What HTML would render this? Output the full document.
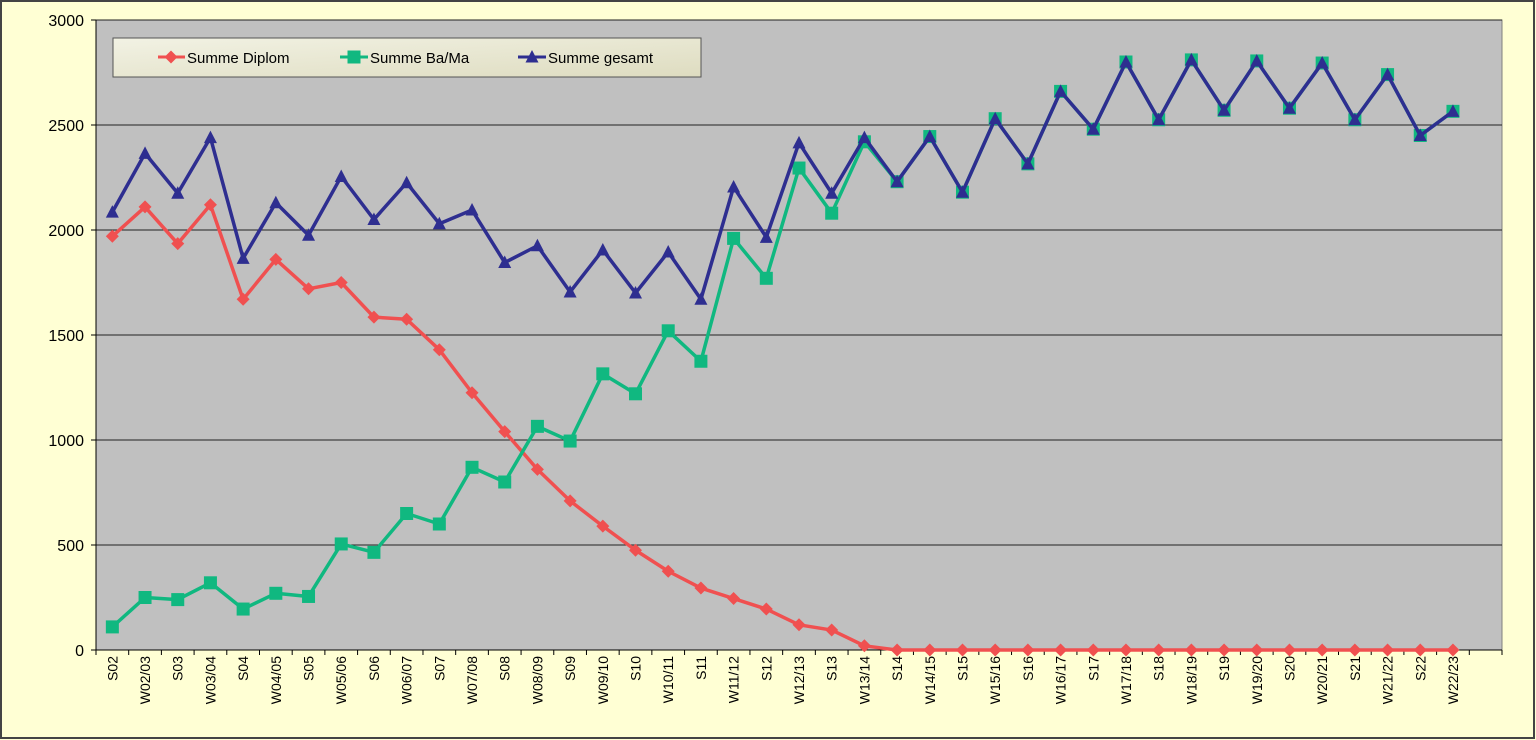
<!DOCTYPE html>
<html><head><meta charset="utf-8"><style>
html,body{margin:0;padding:0;background:#ffffd0}
svg{display:block;font-family:"Liberation Sans",sans-serif}
</style></head><body>
<svg id="s" width="1536" height="740" xmlns="http://www.w3.org/2000/svg">
<rect x="0" y="0" width="1536" height="740" fill="#ffffd4"/>
<rect x="1" y="1" width="1533" height="737" fill="none" stroke="#444" stroke-width="2"/>
<defs><linearGradient id="lg" x1="0" y1="0" x2="1" y2="1"><stop offset="0" stop-color="#f2f2e4"/><stop offset="1" stop-color="#dedcc0"/></linearGradient></defs>
<rect x="96" y="20" width="1406" height="630" fill="#c0c0c0" stroke="#808080"/>
<g id="g"></g>
</svg>
<script>
var g=document.getElementById('g'),h='';
var L=96,T=20,B=650,W=1406,N=43,dx=W/N;
function Y(v){return B-v*0.21}
function X(i){return L+dx*(i+0.5)}
for(var k=1;k<=6;k++){var y=Y(k*500);h+='<line x1="'+L+'" x2="'+(L+W)+'" y1="'+y+'" y2="'+y+'" stroke="#222" stroke-width="1"/>';}
for(var k=0;k<=6;k++){var y=Y(k*500);h+='<line x1="'+(L-5)+'" x2="'+L+'" y1="'+y+'" y2="'+y+'" stroke="#000"/><text x="'+(L-12)+'" y="'+(y+6)+'" font-size="16" text-anchor="end">'+(k*500)+'</text>';}
h+='<line x1="'+L+'" x2="'+L+'" y1="'+T+'" y2="'+B+'" stroke="#000"/><line x1="'+L+'" x2="'+(L+W)+'" y1="'+B+'" y2="'+B+'" stroke="#000"/>';
for(var i=0;i<=N;i++){var x=L+dx*i;h+='<line x1="'+x+'" x2="'+x+'" y1="'+B+'" y2="'+(B+5)+'" stroke="#000"/>';}
var lab=[];for(var yy=2;yy<=22;yy++){var a=('0'+yy).slice(-2),b=('0'+(yy+1)).slice(-2);lab.push('S'+a);lab.push('W'+a+'/'+b);}
lab.forEach(function(t,i){var x=X(i)+5;h+='<text transform="translate('+x+',656) rotate(-90)" font-size="14" text-anchor="end">'+t+'</text>';});
var D=[1970,2110,1935,2120,1670,1860,1720,1750,1585,1575,1430,1225,1040,860,710,590,475,375,295,245,195,120,95,20];while(D.length<42)D.push(0);
var M=[110,250,240,320,195,270,255,505,465,650,600,870,800,1065,995,1315,1220,1520,1375,1960,1770,2295,2080,2420,2230,2445,2180,2530,2315,2660,2480,2800,2525,2810,2570,2805,2580,2795,2525,2740,2450,2565];
var G=[2085,2365,2175,2440,1865,2130,1975,2255,2050,2225,2030,2095,1845,1925,1705,1905,1700,1895,1670,2205,1965,2415,2175,2440];for(var i=24;i<42;i++)G.push(M[i]);
function line(d,c){return '<polyline fill="none" stroke="'+c+'" stroke-width="3.5" stroke-linejoin="round" points="'+d.map(function(v,i){return X(i)+','+Y(v)}).join(' ')+'"/>';}
function dia(x,y,c){return '<polygon points="'+x+','+(y-6.5)+' '+(x+6.5)+','+y+' '+x+','+(y+6.5)+' '+(x-6.5)+','+y+'" fill="'+c+'"/>';}
function sq(x,y,c){return '<rect x="'+(x-6.5)+'" y="'+(y-6.5)+'" width="13" height="13" fill="'+c+'"/>';}
function tri(x,y,c){return '<polygon points="'+x+','+(y-7)+' '+(x+6.5)+','+(y+5.5)+' '+(x-6.5)+','+(y+5.5)+'" fill="'+c+'"/>';}
var cr='#f05050',cg='#10b880',cb='#2e2e90';
h+=line(D,cr);D.forEach(function(v,i){h+=dia(X(i),Y(v),cr)});
h+=line(M,cg);M.forEach(function(v,i){h+=sq(X(i),Y(v),cg)});
h+=line(G,cb);G.forEach(function(v,i){h+=tri(X(i),Y(v),cb)});
h+='<rect x="113" y="38" width="588" height="39" fill="url(#lg)" stroke="#555"/>';
h+='<line x1="158" x2="185" y1="57" y2="57" stroke="'+cr+'" stroke-width="3"/>'+dia(171,57,cr)+'<text x="187" y="63" font-size="15">Summe Diplom</text>';
h+='<line x1="340" x2="368" y1="57" y2="57" stroke="'+cg+'" stroke-width="3"/>'+sq(354,57,cg)+'<text x="370" y="63" font-size="15">Summe Ba/Ma</text>';
h+='<line x1="518" x2="546" y1="57" y2="57" stroke="'+cb+'" stroke-width="3"/>'+tri(532,57,cb)+'<text x="548" y="63" font-size="15">Summe gesamt</text>';
g.innerHTML=h;
</script>
</body></html>
